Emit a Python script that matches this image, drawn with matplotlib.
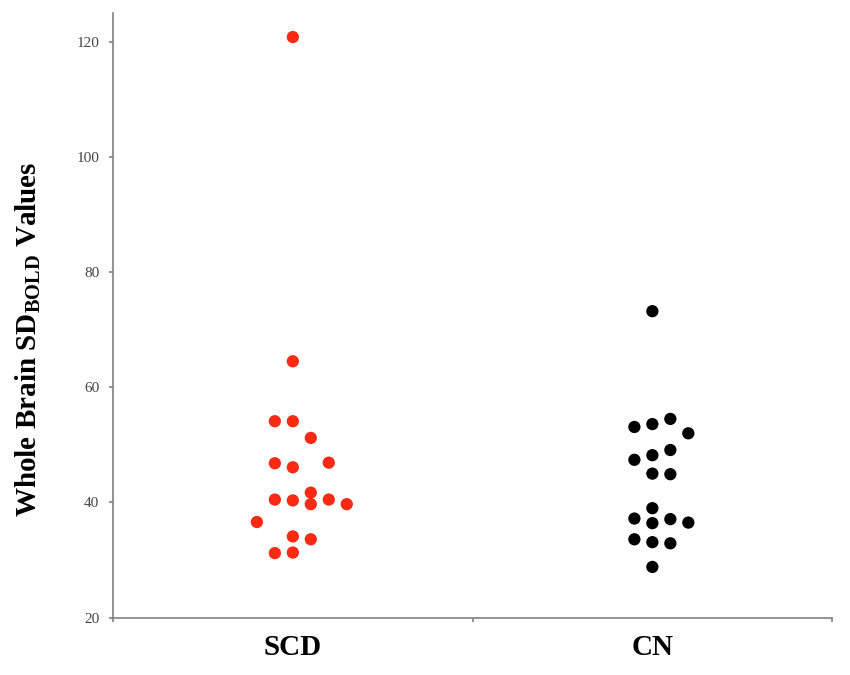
import matplotlib
matplotlib.use("Agg")
import matplotlib.pyplot as plt
import numpy as np

# ─── Data ────────────────────────────────────────────────────────────────────

groups = ["SCD", "CN"]

scd_values = [120.8, 64.5, 54.1, 54.1, 51.2, 46.8, 46.1, 46.9,
              40.5, 40.35, 41.7, 39.7, 40.5, 39.7, 36.6, 34.1, 33.6, 31.2, 31.3]
# swarm column of each point (0 = group centre)
scd_jitter = [0, 0, -1, 0, 1, -1, 0, 2,
              -1, 0, 1, 1, 2, 3, -2, 0, 1, -1, 0]

cn_values = [73.2, 53.1, 53.6, 54.5, 52.0, 47.4, 48.2, 49.1, 45.0, 44.9,
             39.0, 37.2, 36.4, 37.1, 36.5, 33.6, 33.1, 32.9, 28.8]
cn_jitter = [0, -1, 0, 1, 2, -1, 0, 1, 0, 1,
             0, -1, 0, 1, 2, -1, 0, 1, 0]

y_ticks = [20, 40, 60, 80, 100, 120]

# ─── Style ───────────────────────────────────────────────────────────────────

plt.rcParams["font.family"] = ["Liberation Serif", "DejaVu Serif"]
plt.rcParams["mathtext.fontset"] = "custom"
plt.rcParams["mathtext.rm"] = "Liberation Serif:bold"
plt.rcParams["mathtext.bf"] = "Liberation Serif:bold"

step = 0.05           # width of one swarm column in data units
dot_size = 78
spine_col = "#808080"

fig = plt.figure(figsize=(8.5, 6.75), dpi=100)
ax = fig.add_axes([0.133, 0.085, 0.846, 0.896])

ax.scatter(1 + np.array(scd_jitter) * step, scd_values,
           s=dot_size, color="#fa2a14", edgecolors="none", zorder=3)
ax.scatter(2 + np.array(cn_jitter) * step, cn_values,
           s=dot_size, color="black", edgecolors="none", zorder=3)

ax.set_xlim(0.5, 2.5)
ax.set_ylim(20, 125)

# spines
for side in ["top", "right"]:
    ax.spines[side].set_visible(False)
for side in ["left", "bottom"]:
    ax.spines[side].set_color(spine_col)
    ax.spines[side].set_linewidth(1.2)

# y ticks
ax.set_yticks(y_ticks)
ax.tick_params(axis="y", direction="out", length=3, width=1.2, color=spine_col,
               labelsize=11, labelcolor="#444444", pad=7)

# x: tick marks between groups, labels centred on groups
ax.set_xticks([0.5, 1.5, 2.5])
ax.set_xticklabels([])
ax.tick_params(axis="x", which="major", direction="out", length=3, width=1.2,
               color=spine_col)
ax.set_xticks([1, 2], minor=True)
ax.set_xticklabels(groups, minor=True, fontsize=21, fontweight="bold")
ax.tick_params(axis="x", which="minor", length=0, pad=12)

ax.set_ylabel(r"Whole Brain SD$_{\mathrm{BOLD}}$ Values",
              fontsize=21, fontweight="bold")
ax.yaxis.set_label_coords(-0.098, 0.46)

fig.savefig("out.png", dpi=100)
